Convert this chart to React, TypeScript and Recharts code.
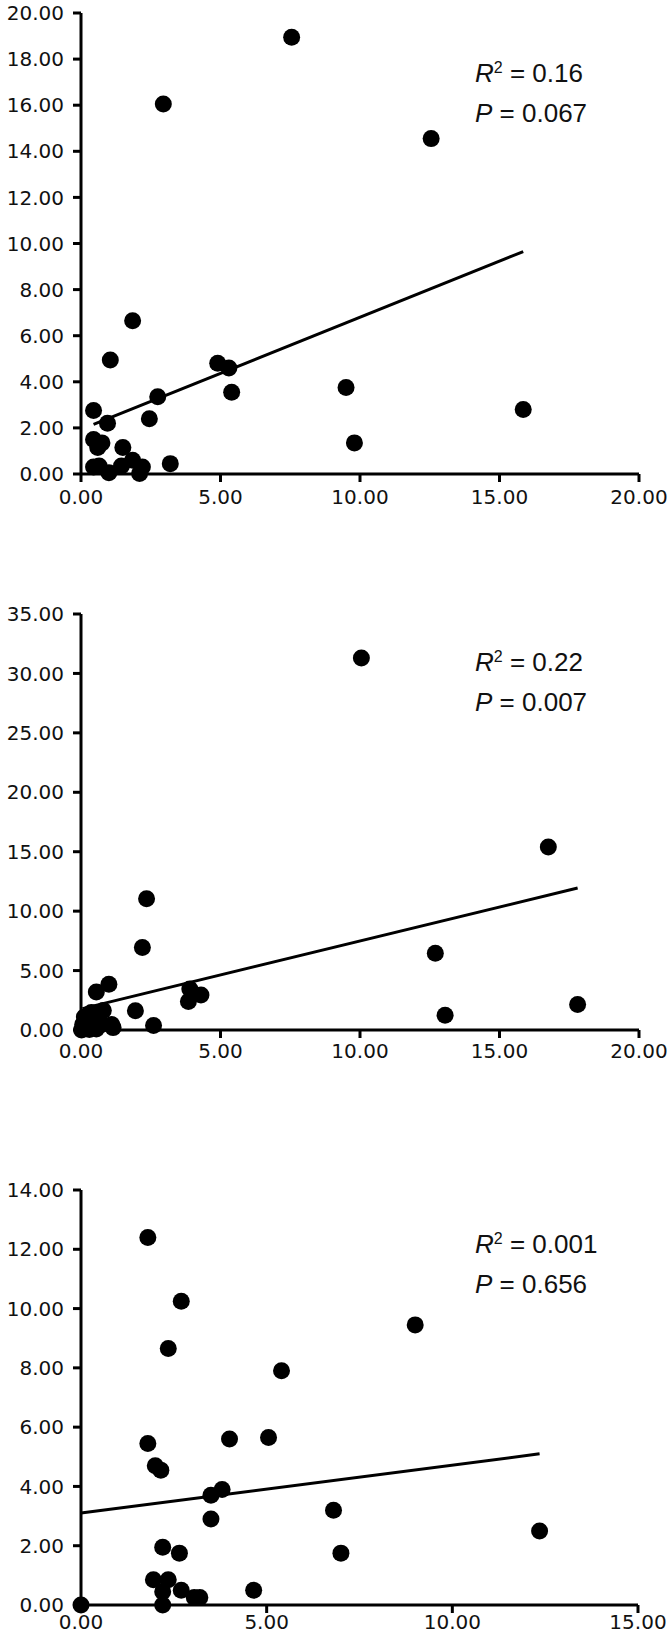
import React from 'react';
import { ScatterChart, Scatter, XAxis, YAxis } from 'recharts';

// panel A
const panelAX = [7.55, 2.95, 12.55, 1.85, 1.05, 4.9, 5.3, 5.4, 9.5, 2.75, 0.45, 0.95, 2.45, 15.85, 9.8, 0.45, 0.75, 0.6, 1.5, 0.45, 0.65, 1.0, 1.45, 1.85, 2.2, 2.1, 3.2];
const panelAY = [18.95, 16.05, 14.55, 6.65, 4.95, 4.8, 4.6, 3.55, 3.75, 3.35, 2.75, 2.2, 2.4, 2.8, 1.35, 1.5, 1.35, 1.15, 1.15, 0.3, 0.35, 0.05, 0.35, 0.6, 0.3, 0.02, 0.45];
const panelATrendX = [0.45, 15.85];
const panelATrendY = [2.15, 9.65];
const panelAXTicks = [0, 5, 10, 15, 20];
const panelAYTicks = [0, 2, 4, 6, 8, 10, 12, 14, 16, 18, 20];

// panel B
const panelBX = [10.05, 16.75, 2.35, 2.2, 12.7, 1.0, 0.55, 3.9, 4.3, 3.85, 1.95, 17.8, 13.05, 2.6, 0.8, 1.1, 1.15, 0.12, 0.27, 0.43, 0.06, 0.22, 0.55, 0.74, 0.37, 0.02, 0.3];
const panelBY = [31.3, 15.4, 11.05, 6.95, 6.45, 3.85, 3.2, 3.45, 2.95, 2.4, 1.62, 2.15, 1.25, 0.38, 1.65, 0.46, 0.2, 1.09, 1.22, 0.96, 0.46, 0.2, 0.08, 0.46, 1.47, 0.0, 0.05];
const panelBTrendX = [0.05, 17.8];
const panelBTrendY = [1.8, 11.95];
const panelBXTicks = [0, 5, 10, 15, 20];
const panelBYTicks = [0, 5, 10, 15, 20, 25, 30, 35];

// panel C
const panelCX = [1.8, 2.7, 2.35, 9.0, 5.4, 1.8, 4.0, 5.05, 2.0, 2.15, 3.5, 3.8, 3.5, 6.8, 12.35, 2.2, 2.65, 7.0, 1.95, 2.35, 2.2, 2.7, 3.05, 3.2, 4.65, 2.2, 0.0];
const panelCY = [12.4, 10.25, 8.65, 9.45, 7.9, 5.45, 5.6, 5.65, 4.7, 4.55, 3.7, 3.9, 2.9, 3.2, 2.5, 1.95, 1.75, 1.75, 0.85, 0.85, 0.45, 0.5, 0.25, 0.25, 0.5, 0.0, 0.0];
const panelCTrendX = [0, 12.35];
const panelCTrendY = [3.1, 5.1];
const panelCXTicks = [0, 5, 10, 15];
const panelCYTicks = [0, 2, 4, 6, 8, 10, 12, 14];

const tickStyle = { fill: '#111', fontSize: 20, fontFamily: 'DejaVu Sans' };
const axisStroke = { stroke: '#000', strokeWidth: 3 };

const Dot = (props: any) => <circle cx={props.cx} cy={props.cy} r={8.5} fill="#000" />;
const NoDot = () => <g />;

function Panel(props: any) {
  const { xs, ys, tx, ty, xTicks, yTicks, r2, p, plotTop, plotBottom, plotLeft, plotRight, annTop, xGap } = props;
  const top = plotTop - 20;
  const height = Math.min(plotBottom - top + 50, 1637 - top);
  const data = xs.map((v: number, i: number) => ({ x: v, y: ys[i] }));
  const trend = tx.map((v: number, i: number) => ({ x: v, y: ty[i] }));

  return (
    <>
      <div style={{ position: 'absolute', left: 0, top, width: 672, height }}>
        <ScatterChart
          width={672}
          height={height}
          margin={{ top: 20, right: 672 - plotRight, bottom: height - 20 - (plotBottom - plotTop) - 50, left: 0 }}
        >
          <XAxis
            type="number"
            dataKey="x"
            domain={[xTicks[0], xTicks[xTicks.length - 1]]}
            ticks={xTicks}
            interval={0}
            height={50}
            tickSize={8}
            tickMargin={xGap}
            axisLine={axisStroke}
            tickLine={axisStroke}
            tick={tickStyle}
            tickFormatter={(v: number) => v.toFixed(2)}
          />
          <YAxis
            type="number"
            dataKey="y"
            domain={[yTicks[0], yTicks[yTicks.length - 1]]}
            ticks={yTicks}
            interval={0}
            width={plotLeft}
            tickSize={8}
            tickMargin={9}
            axisLine={axisStroke}
            tickLine={axisStroke}
            tick={tickStyle}
            tickFormatter={(v: number) => v.toFixed(2)}
          />
          <Scatter data={trend} line={{ stroke: '#000', strokeWidth: 3 }} shape={NoDot} isAnimationActive={false} />
          <Scatter data={data} shape={Dot} isAnimationActive={false} />
        </ScatterChart>
      </div>
      <div
        style={{
          position: 'absolute',
          left: 475,
          top: annTop,
          fontFamily: 'Liberation Sans',
          fontSize: 26,
          lineHeight: '40px',
          color: '#111',
          whiteSpace: 'nowrap',
        }}
      >
        <div>
          <i>R</i>
          <sup style={{ fontSize: 16, verticalAlign: 'top', lineHeight: '30px' }}>2</sup> = {r2}
        </div>
        <div>
          <i>P</i> = {p}
        </div>
      </div>
    </>
  );
}

export default function App() {
  return (
    <div style={{ position: 'absolute', left: 0, top: 0, width: 672, height: 1637, overflow: 'hidden', background: '#fff' }}>
      <Panel xs={panelAX} ys={panelAY} tx={panelATrendX} ty={panelATrendY} xTicks={panelAXTicks} yTicks={panelAYTicks}
        r2="0.16" p="0.067" plotTop={13} plotBottom={474} plotLeft={81} plotRight={639} annTop={53} xGap={8} />
      <Panel xs={panelBX} ys={panelBY} tx={panelBTrendX} ty={panelBTrendY} xTicks={panelBXTicks} yTicks={panelBYTicks}
        r2="0.22" p="0.007" plotTop={614} plotBottom={1030} plotLeft={81} plotRight={639} annTop={642} xGap={6} />
      <Panel xs={panelCX} ys={panelCY} tx={panelCTrendX} ty={panelCTrendY} xTicks={panelCXTicks} yTicks={panelCYTicks}
        r2="0.001" p="0.656" plotTop={1190} plotBottom={1605} plotLeft={81} plotRight={638} annTop={1224} xGap={2} />
    </div>
  );
}
